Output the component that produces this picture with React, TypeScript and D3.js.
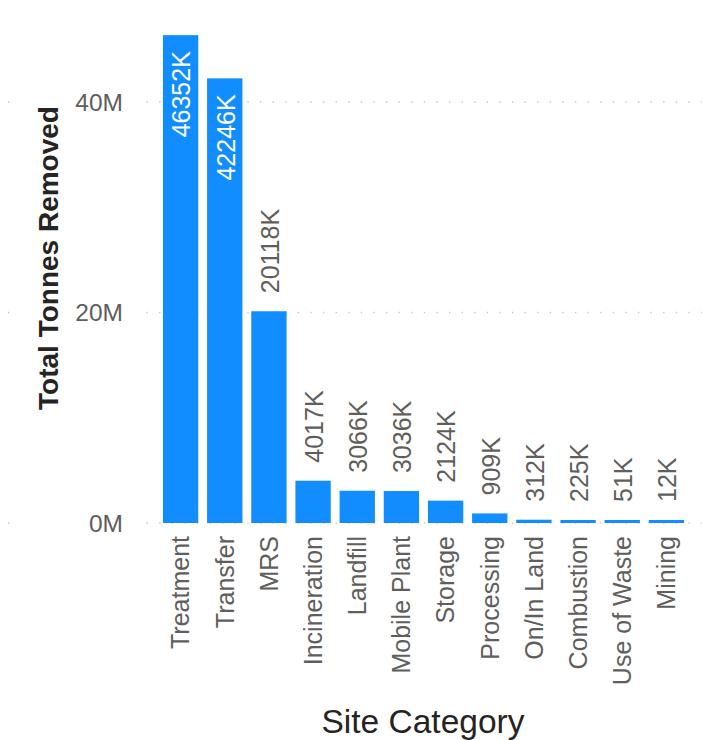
import React from "react";
import * as d3 from "d3";

const categories = ["Treatment", "Transfer", "MRS", "Incineration", "Landfill", "Mobile Plant", "Storage", "Processing", "On/In Land", "Combustion", "Use of Waste", "Mining"];
const valuesK = [46352, 42246, 20118, 4017, 3066, 3036, 2124, 909, 312, 225, 51, 12];
const yTicks = [0, 20000, 40000];

const W = 702;
const H = 740;
const FONT = "'Liberation Sans', Arial, sans-serif";
const BLUE = "#118DFF";
const GRAY = "#605E5C";

export default function App() {
  const x = d3.scaleBand<string>().domain(categories).range([158.5, 688.5]).paddingInner(0.2).paddingOuter(0.1);
  const y = d3.scaleLinear().domain([0, 40000]).range([523, 102]);
  const bw = x.bandwidth();
  const labelFont = 25;
  const labelGap = 18;

  return (
    <svg width={W} height={H} style={{ position: "absolute", left: 0, top: 0 }} fontFamily={FONT}>
      <rect x={0} y={0} width={W} height={H} fill="#fff" />
      {/* gridlines */}
      {yTicks.map((t) => (
        <g key={"g" + t}>
          <line x1={8} x2={W} y1={y(t)} y2={y(t)} stroke="#C8C6C4" strokeWidth={1.3} strokeDasharray="1.3 11.3" />
          <rect x={12} y={y(t) - 14} width={131} height={28} fill="#fff" />
          <text x={123} y={y(t)} dy="0.35em" textAnchor="end" fontSize={24.5} fill={GRAY}>
            {d3.format("d")(t / 1000) + "M"}
          </text>
        </g>
      ))}
      {/* bars */}
      {categories.map((c, i) => {
        const v = valuesK[i];
        const h = Math.max(y(0) - y(v), 3);
        const top = y(0) - h;
        const cx = (x(c) as number) + bw / 2;
        const label = v + "K";
        const approxLen = label.length * labelFont * 0.57;
        const fitsAbove = top - labelGap - approxLen > 0;
        return (
          <g key={c}>
            <rect x={x(c)} y={top} width={bw} height={h} fill={BLUE} />
            {fitsAbove ? (
              <text transform={`translate(${cx + 1},${top - labelGap}) rotate(-90)`} dy="0.35em" textAnchor="start" fontSize={labelFont} fill={GRAY}>
                {label}
              </text>
            ) : (
              <text transform={`translate(${cx + 1},${top + 16}) rotate(-90)`} dy="0.35em" textAnchor="end" fontSize={labelFont} fill="#fff">
                {label}
              </text>
            )}
            <text transform={`translate(${cx},536) rotate(-90)`} dy="0.35em" textAnchor="end" fontSize={25} fill={GRAY}>
              {c}
            </text>
          </g>
        );
      })}
      {/* axis titles */}
      <text transform={`translate(58,258) rotate(-90)`} textAnchor="middle" fontSize={28} fontWeight="bold" fill="#252423">
        Total Tonnes Removed
      </text>
      <text x={423} y={733} textAnchor="middle" fontSize={33.5} fill="#252423">
        Site Category
      </text>
    </svg>
  );
}
